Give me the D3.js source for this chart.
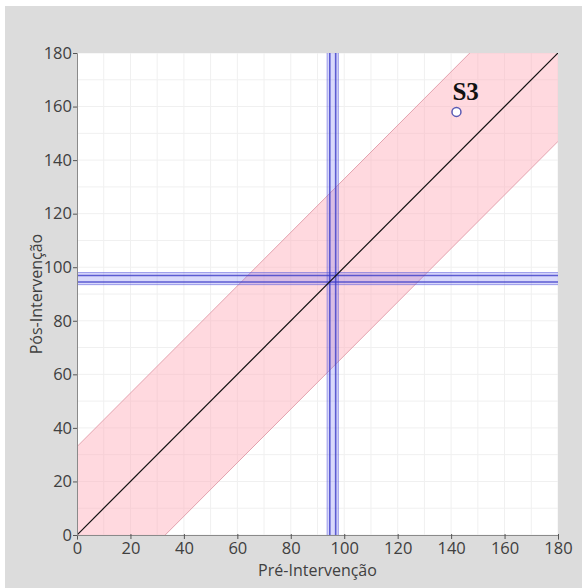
<!DOCTYPE html>
<html lang="pt">
<head>
<meta charset="UTF-8" />
<title>Pré vs Pós-Intervenção</title>
<style>
  html, body { margin: 0; padding: 0; background: #fff; }
  svg { display: block; }
  .tick text { font-family: "Open Sans", "Noto Sans", sans-serif; font-size: 16.5px; fill: #404040; }
</style>
</head>
<body>
<svg id="chart" width="582" height="588"></svg>
<script src="https://d3js.org/d3.v7.min.js"></script>
<script>
  // data
  const domain = [0, 180];
  const tickValues = [0, 20, 40, 60, 80, 100, 120, 140, 160, 180];
  const gridValues = d3.range(0, 181, 10);
  const subjects = ["S3"];
  const preValues = [142];
  const posValues = [158];
  const bandHalf = 33;            // reliable change band around y = x
  const preRef = [93.6, 97.8];     // shaded range pre
  const preLines = [94.6, 96.8];
  const posRef = [93.5, 98.0];
  const posLines = [94.5, 96.9];

  const svg = d3.select("#chart");
  const m = { left: 77, right: 558, top: 53, bottom: 535 };

  const x = d3.scaleLinear().domain(domain).range([m.left, m.right]);
  const y = d3.scaleLinear().domain(domain).range([m.bottom, m.top]);

  // gray panel
  svg.append("rect").attr("x", 5).attr("y", 6).attr("width", 577).attr("height", 582).attr("fill", "#dcdcdc");
  svg.append("rect").attr("x", x(0)).attr("y", y(180)).attr("width", x(180) - x(0)).attr("height", y(0) - y(180)).attr("fill", "#fff");

  svg.append("clipPath").attr("id", "clip")
    .append("rect").attr("x", x(0)).attr("y", y(180)).attr("width", x(180) - x(0)).attr("height", y(0) - y(180));

  const plot = svg.append("g").attr("clip-path", "url(#clip)");

  // grid
  plot.selectAll(".gx").data(gridValues).enter().append("line")
    .attr("x1", d => x(d)).attr("x2", d => x(d)).attr("y1", y(0)).attr("y2", y(180))
    .attr("stroke", "#f0f0f0").attr("stroke-width", 1);
  plot.selectAll(".gy").data(gridValues).enter().append("line")
    .attr("y1", d => y(d)).attr("y2", d => y(d)).attr("x1", x(0)).attr("x2", x(180))
    .attr("stroke", "#f0f0f0").attr("stroke-width", 1);

  // pink band
  const bandPts = [[0, bandHalf], [180 - bandHalf, 180], [180, 180], [180, 180 - bandHalf], [bandHalf, 0], [0, 0]];
  plot.append("path")
    .attr("d", d3.line().x(d => x(d[0])).y(d => y(d[1]))(bandPts) + "Z")
    .attr("fill", "rgba(255,170,185,0.45)");
  [[[0, bandHalf], [180 - bandHalf, 180]], [[bandHalf, 0], [180, 180 - bandHalf]]].forEach(seg => {
    plot.append("line")
      .attr("x1", x(seg[0][0])).attr("y1", y(seg[0][1]))
      .attr("x2", x(seg[1][0])).attr("y2", y(seg[1][1]))
      .attr("stroke", "#e3a2ae").attr("stroke-width", 1);
  });

  // reference bands
  plot.append("rect").attr("x", x(preRef[0])).attr("width", x(preRef[1]) - x(preRef[0]))
    .attr("y", y(180)).attr("height", y(0) - y(180))
    .attr("fill", "rgba(120,120,240,0.28)");
  plot.append("rect").attr("y", y(posRef[1])).attr("height", y(posRef[0]) - y(posRef[1]))
    .attr("x", x(0)).attr("width", x(180) - x(0))
    .attr("fill", "rgba(120,120,240,0.28)");
  preRef.forEach(v => plot.append("line").attr("x1", x(v)).attr("x2", x(v)).attr("y1", y(0)).attr("y2", y(180))
    .attr("stroke", "rgba(90,90,220,0.55)").attr("stroke-width", 1));
  posRef.forEach(v => plot.append("line").attr("y1", y(v)).attr("y2", y(v)).attr("x1", x(0)).attr("x2", x(180))
    .attr("stroke", "rgba(90,90,220,0.55)").attr("stroke-width", 1));
  preLines.forEach(v => plot.append("line").attr("x1", x(v)).attr("x2", x(v)).attr("y1", y(0)).attr("y2", y(180))
    .attr("stroke", "rgba(60,60,200,0.8)").attr("stroke-width", 1.6));
  posLines.forEach(v => plot.append("line").attr("y1", y(v)).attr("y2", y(v)).attr("x1", x(0)).attr("x2", x(180))
    .attr("stroke", "rgba(60,60,200,0.8)").attr("stroke-width", 1.6));

  // identity line
  plot.append("line").attr("x1", x(0)).attr("y1", y(0)).attr("x2", x(180)).attr("y2", y(180))
    .attr("stroke", "#111").attr("stroke-width", 1.2);

  // axes
  const xAxis = svg.append("g").attr("transform", `translate(0,${y(0)})`)
    .call(d3.axisBottom(x).tickValues(tickValues).tickSize(5).tickPadding(-2));
  xAxis.select(".domain").attr("stroke", "#8a8a8a");
  xAxis.selectAll(".tick line").attr("stroke", "#555").attr("transform", "translate(0,-1)");
  xAxis.selectAll(".tick text").attr("dy", "0.95em");

  const yAxis = svg.append("g").attr("transform", `translate(${x(0)},0)`)
    .call(d3.axisLeft(y).tickValues(tickValues).tickSize(4).tickPadding(1));
  yAxis.select(".domain").attr("stroke", "#8a8a8a");
  yAxis.selectAll(".tick line").attr("stroke", "#555");

  // points
  const pts = subjects.map((s, i) => ({ s, pre: preValues[i], pos: posValues[i] }));
  svg.selectAll(".pt").data(pts).enter().append("circle")
    .attr("cx", d => x(d.pre)).attr("cy", d => y(d.pos)).attr("r", 4.5)
    .attr("fill", "#fff").attr("stroke", "#5a5ab4").attr("stroke-width", 1.5);
  svg.selectAll(".lbl").data(pts).enter().append("text")
    .attr("x", d => x(d.pre) - 4).attr("y", d => y(d.pos) - 12)
    .attr("font-family", "'Liberation Serif', 'DejaVu Serif', serif")
    .attr("font-size", 25).attr("font-weight", "bold").attr("fill", "#111")
    .text(d => d.s);

  // axis titles
  svg.append("text").attr("x", (x(0) + x(180)) / 2).attr("y", 576)
    .attr("text-anchor", "middle")
    .attr("font-family", "'Open Sans', 'Noto Sans', sans-serif").attr("font-size", 16).attr("fill", "#404040")
    .text("Pré-Intervenção");
  svg.append("text").attr("transform", `translate(42,${(y(0) + y(180)) / 2}) rotate(-90)`)
    .attr("text-anchor", "middle")
    .attr("font-family", "'Open Sans', 'Noto Sans', sans-serif").attr("font-size", 16).attr("fill", "#404040")
    .text("Pós-Intervenção");
</script>
</body>
</html>
